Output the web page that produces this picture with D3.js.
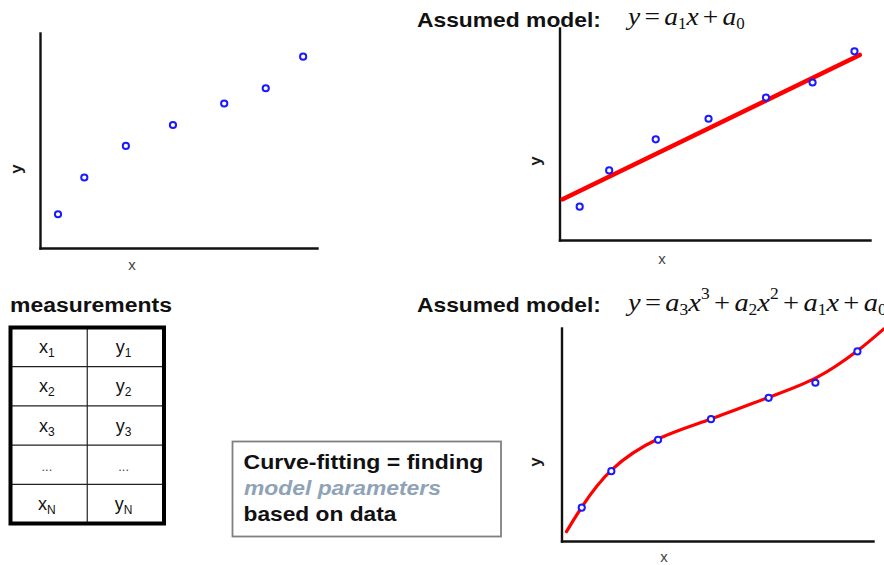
<!DOCTYPE html>
<html>
<head>
<meta charset="utf-8">
<script src="https://cdn.jsdelivr.net/npm/d3@7"></script>
<style>
	body { margin: 0; background: #ffffff; }
	svg { display: block; font-family: "Liberation Sans", Arial, sans-serif; }
</style>
</head>
<body>
<div id="chart"></div>
<script>

//measured points, the same set is drawn in all three plots (axis units 0..10)
var point_x = [0.65, 1.6, 3.1, 4.8, 6.65, 8.15, 9.5];
var point_y = [1.57, 3.28, 4.75, 5.72, 6.72, 7.43, 8.9];

//straight line model, end points
var line_fit_x = [0.1, 9.67];
var line_fit_y = [1.92, 8.73];

//cubic model, points
var cubic_fit_x = [0.16, 0.64, 1.61, 3.11, 4.78, 6.68, 8.2, 9.5, 10.34];
var cubic_fit_y = [0.44, 1.57, 3.34, 4.8, 5.72, 6.76, 7.68, 8.93, 9.95];

//measurements table
var table_columns = ["x", "y"];
var table_rows = ["1", "2", "3", "...", "N"];

var axis_domain = [0, 10];

//formulas, [text, style] pairs: i = italic, op = upright sign, sub / sup = small
var formula_linear = [["y", "i"], ["=", "op"], ["a", "i"], ["1", "sub"], ["x", "i"], ["+", "op"], ["a", "i"], ["0", "sub"]];
var formula_cubic = [["y", "i"], ["=", "op"], ["a", "i"], ["3", "sub"], ["x", "i"], ["3", "sup"], ["+", "op"],
	["a", "i"], ["2", "sub"], ["x", "i"], ["2", "sup"], ["+", "op"], ["a", "i"], ["1", "sub"], ["x", "i"], ["+", "op"], ["a", "i"], ["0", "sub"]];

var width = 884;
var height = 565;

var svg = d3.select("#chart").append("svg")
	.attr("width", width)
	.attr("height", height);

svg.append("rect")
	.attr("width", width)
	.attr("height", height)
	.attr("fill", "#ffffff");


function Panel(box)
{
	//one small plot: two bare axes, the blue points and the axis letters
	var self = this;

	self.box = box;
	self.x = d3.scaleLinear().domain(axis_domain).range([box.left, box.right]);
	self.y = d3.scaleLinear().domain(axis_domain).range([box.bottom, box.top]);

	self.g = svg.append("g");

	self.g.append("g")
		.attr("transform", "translate(0," + box.bottom + ")")
		.call(d3.axisBottom(self.x).tickValues([]).tickSizeOuter(0));

	self.g.append("g")
		.attr("transform", "translate(" + box.left + ",0)")
		.call(d3.axisLeft(self.y).tickValues([]).tickSizeOuter(0));

	self.g.selectAll(".domain")
		.attr("stroke", "#111111")
		.attr("stroke-width", 2.4)
		.attr("stroke-linecap", "square");

	self.g.append("text")
		.attr("x", box.x_label[0])
		.attr("y", box.x_label[1])
		.attr("text-anchor", "middle")
		.attr("font-size", 15)
		.attr("fill", "#444444")
		.text("x");

	self.g.append("text")
		.attr("transform", "translate(" + box.y_label[0] + "," + box.y_label[1] + ") rotate(-90)")
		.attr("text-anchor", "middle")
		.attr("font-size", 17)
		.attr("font-weight", "bold")
		.attr("fill", "#1a1a1a")
		.text("y");
}

Panel.prototype.drawFit = function(xs, ys, stroke_width, curve)
{
	var self = this;

	var line = d3.line()
		.x(function(d) { return self.x(d[0]); })
		.y(function(d) { return self.y(d[1]); })
		.curve(curve);

	self.g.append("path")
		.datum(d3.zip(xs, ys))
		.attr("d", line)
		.attr("fill", "none")
		.attr("stroke", "#ff0000")
		.attr("stroke-width", stroke_width)
		.attr("stroke-linecap", "round");
};

Panel.prototype.drawPoints = function()
{
	var self = this;

	self.g.append("g")
		.selectAll("circle")
		.data(d3.zip(point_x, point_y))
		.enter()
			.append("circle")
				.attr("cx", function(d) { return self.x(d[0]); })
				.attr("cy", function(d) { return self.y(d[1]); })
				.attr("r", 3.1)
				.attr("fill", "#ffffff")
				.attr("stroke", "#1a1aff")
				.attr("stroke-width", 2);
};


//text is a bit wider than the font draws it, so stretch it to the measured width
function wideText(x, y, str, target_width, opts)
{
	var t = svg.append("text")
		.attr("font-size", opts.size)
		.attr("font-weight", opts.weight || "bold")
		.attr("font-style", opts.style || "normal")
		.attr("fill", opts.color || "#111111")
		.text(str);

	var natural = t.node().getComputedTextLength();
	t.attr("transform", "translate(" + x + "," + y + ") scale(" + (target_width / natural) + ",1)");
	return t;
}

function formula(x, y, parts, target_width)
{
	var t = svg.append("text")
		.attr("font-family", "'Liberation Serif', 'Times New Roman', serif")
		.attr("font-size", 26)
		.attr("fill", "#111111");

	var shift = 0;
	var gap = 0;
	parts.forEach(function(p)
		{
			var goal = 0;
			if (p[1] == "sub") goal = 4;
			if (p[1] == "sup") goal = -12;

			var small = (p[1] == "sub" || p[1] == "sup");
			if (p[1] == "op") gap = 4;

			t.append("tspan")
				.attr("dy", goal - shift)
				.attr("dx", gap)
				.attr("font-style", p[1] == "i" ? "italic" : "normal")
				.attr("font-size", small ? 16 : 26)
				.text(p[0]);

			gap = (p[1] == "op") ? 4 : 0;
			shift = goal;
		}
	);

	var natural = t.node().getBBox().width;
	t.attr("transform", "translate(" + x + "," + y + ") scale(" + (target_width / natural) + ",1)");
}


//the three plots
var plain = new Panel({left: 40, right: 317, top: 33, bottom: 248, x_label: [132, 270], y_label: [22, 169]});
plain.drawPoints();

var linear = new Panel({left: 559.5, right: 870, top: 28, bottom: 240, x_label: [662, 264], y_label: [541, 161]});
linear.drawFit(line_fit_x, line_fit_y, 4.5, d3.curveLinear);
linear.drawPoints();

var cubic = new Panel({left: 561.5, right: 873, top: 328, bottom: 541, x_label: [664, 562], y_label: [541, 462]});
cubic.drawFit(cubic_fit_x, cubic_fit_y, 3.2, d3.curveNatural);
cubic.drawPoints();


//headings and formulas
wideText(417, 27, "Assumed model:", 184, {size: 20.5});
wideText(417, 312, "Assumed model:", 184, {size: 20.5});
formula(628, 25, formula_linear, 120);
formula(628, 311, formula_cubic, 262);


//measurements table
wideText(10, 312, "measurements", 162, {size: 20.5});

var table_left = 10.5;
var table_right = 164;
var table_top = 327.5;
var table_bottom = 523.5;

var col = d3.scaleBand().domain(table_columns).range([table_left, table_right]);
var row = d3.scaleBand().domain(table_rows).range([table_top, table_bottom]);

var table = svg.append("g");

//inner lines
table.selectAll(".row_line")
	.data(table_rows.slice(1))
	.enter()
		.append("line")
			.attr("class", "row_line")
			.attr("x1", table_left)
			.attr("x2", table_right)
			.attr("y1", function(d) { return row(d); })
			.attr("y2", function(d) { return row(d); })
			.attr("stroke", "#222222")
			.attr("stroke-width", 1.2);

table.append("line")
	.attr("x1", col("y"))
	.attr("x2", col("y"))
	.attr("y1", table_top)
	.attr("y2", table_bottom)
	.attr("stroke", "#222222")
	.attr("stroke-width", 1.2);

table.append("rect")
	.attr("x", table_left)
	.attr("y", table_top)
	.attr("width", table_right - table_left)
	.attr("height", table_bottom - table_top)
	.attr("fill", "none")
	.attr("stroke", "#000000")
	.attr("stroke-width", 4);

var cells = [];
table_rows.forEach(function(r)
	{
		table_columns.forEach(function(c) { cells.push({row: r, col: c}); });
	}
);

var cell_text = table.selectAll(".cell")
	.data(cells)
	.enter()
		.append("text")
			.attr("class", "cell")
			.attr("x", function(d) { return col(d.col) + col.bandwidth() / 2 - 2; })
			.attr("y", function(d) { return row(d.row) + row.bandwidth() / 2 + 6; })
			.attr("text-anchor", "middle")
			.attr("font-size", 18)
			.attr("fill", "#111111");

cell_text.each(function(d)
	{
		var t = d3.select(this);
		if (d.row == "...")
		{
			t.attr("font-size", 13).attr("fill", "#444444").text("...");
			return;
		}
		t.append("tspan").text(d.col);
		t.append("tspan")
			.attr("font-size", 12)
			.attr("dy", 4)
			.text(d.row);
	}
);


//note box
svg.append("rect")
	.attr("x", 232.5)
	.attr("y", 441.5)
	.attr("width", 268.5)
	.attr("height", 95)
	.attr("fill", "#ffffff")
	.attr("stroke", "#808080")
	.attr("stroke-width", 1.8);

wideText(243.5, 469, "Curve-fitting = finding", 240, {size: 20});
wideText(244, 495, "model parameters", 197, {size: 20, style: "italic", color: "#8fa3b6"});
wideText(243.5, 521, "based on data", 153, {size: 20});

</script>
</body>
</html>
